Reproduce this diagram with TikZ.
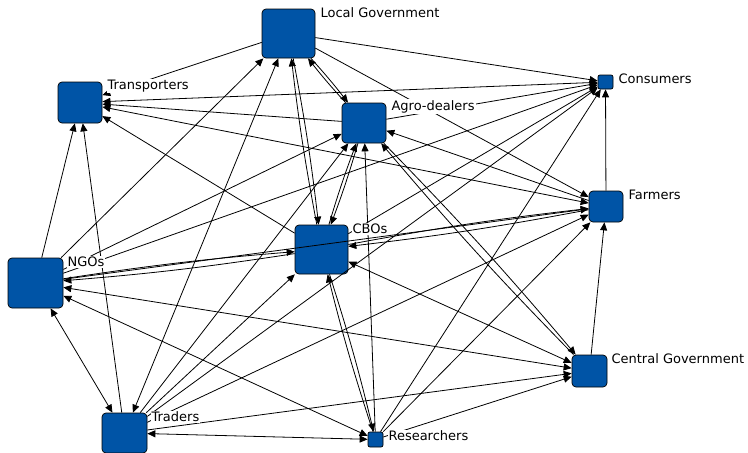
\documentclass[tikz,border=0pt]{standalone}
\usepackage{fontspec}
\setmainfont{DejaVu Sans}
\usetikzlibrary{arrows.meta}
\definecolor{actorblue}{HTML}{0054A6}

\begin{document}
\begin{tikzpicture}[x=1pt, y=-1pt,
	actor/.style={draw, fill=actorblue, rounded corners=4pt, inner sep=0pt, line width=0.7pt},
	tag/.style={anchor=west, fill=white, inner sep=1pt, font=\fontsize{13}{15}\selectfont},
	tie/.style={-{Triangle[length=8pt,width=7pt]}, line width=0.8pt},
	mutual/.style={{Triangle[length=8pt,width=7pt]}-{Triangle[length=8pt,width=7pt]}, line width=0.8pt}]
	\useasboundingbox (0,0) rectangle (748,453);

	\node [actor, minimum width=53pt, minimum height=49pt] (lg) at (288.5,33.5) {};
	\node [actor, minimum width=44pt, minimum height=41pt] (tr) at (80,102.5) {};
	\node [actor, minimum width=44pt, minimum height=40pt] (ad) at (364,123) {};
	\node [actor, minimum width=15pt, minimum height=14pt, rounded corners=2pt] (co) at (605.5,82) {};
	\node [actor, minimum width=34pt, minimum height=31pt] (fa) at (606,206.5) {};
	\node [actor, minimum width=53pt, minimum height=49pt] (cb) at (321.5,249.5) {};
	\node [actor, minimum width=55pt, minimum height=50pt] (ng) at (35.5,283) {};
	\node [actor, minimum width=45pt, minimum height=40pt] (td) at (124.5,433) {};
	\node [actor, minimum width=15pt, minimum height=15pt, rounded corners=2pt] (re) at (375.5,439.5) {};
	\node [actor, minimum width=35pt, minimum height=32pt] (cg) at (589.5,371) {};

	\foreach \a/\b in {lg/co, lg/tr, lg/fa, ng/lg, ad/tr, cb/tr, ng/tr, td/tr,
		ad/co, fa/ad, re/ad, ng/ad, td/ad, fa/co, cb/co, ng/co, td/co, re/co,
		ng/fa, td/fa, re/fa, cg/fa, td/cb, td/cg, re/cg}
		\draw [tie] (\a) -- (\b);
	\foreach \a/\b in {lg/td, tr/co, tr/fa, cb/cg, ng/td, ng/re, ng/cg, td/re}
		\draw [mutual] (\a) -- (\b);
	\foreach \a/\b in {lg/ad, lg/cb, cb/ad, ad/cg, cb/fa, cb/ng, cb/re} {
		\draw [tie] (\a) to [bend left=2] (\b);
		\draw [tie] (\b) to [bend left=2] (\a);
	}

	\node [tag] (lgtag) at ([xshift=4pt,yshift=-4pt]lg.north east) {Local Government};
	\node [tag] (trtag) at ([xshift=4pt,yshift=-4pt]tr.north east) {Transporters};
	\node [tag] (adtag) at ([xshift=4pt,yshift=-4pt]ad.north east) {Agro-dealers};
	\node [tag] (cotag) at ([xshift=4pt,yshift=-4pt]co.north east) {Consumers};
	\node [tag] (fatag) at ([xshift=4pt,yshift=-4pt]fa.north east) {Farmers};
	\node [tag] (cbtag) at ([xshift=3pt,yshift=-4pt]cb.north east) {CBOs};
	\node [tag] (ngtag) at ([xshift=3pt,yshift=-4pt]ng.north east) {NGOs};
	\node [tag] (tdtag) at ([xshift=3pt,yshift=-4pt]td.north east) {Traders};
	\node [tag] (retag) at ([xshift=4pt,yshift=-4pt]re.north east) {Researchers};
	\node [tag] (cgtag) at ([xshift=3pt,yshift=-4pt]cg.north east) {Central Government};
\end{tikzpicture}
\end{document}
